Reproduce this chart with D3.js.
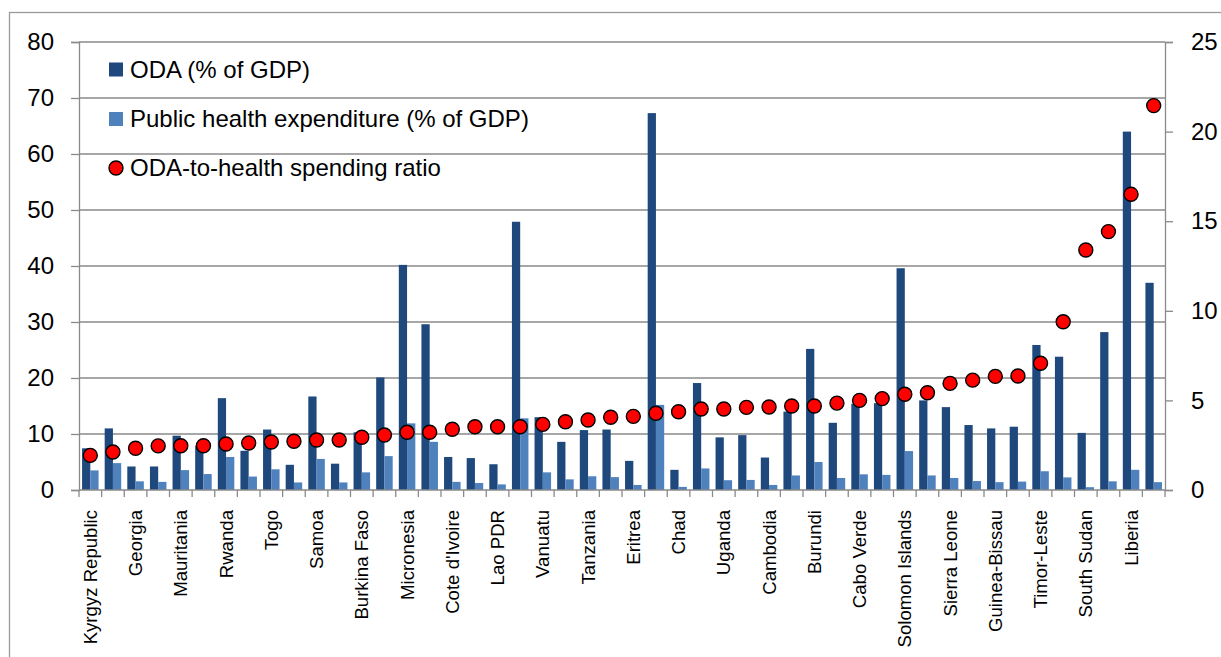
<!DOCTYPE html>
<html><head><meta charset="utf-8">
<script src="https://cdn.jsdelivr.net/npm/d3@7"></script>
<style>
html,body{margin:0;padding:0;background:#fff;overflow:hidden;}
text{font-family:"Liberation Sans",Arial,sans-serif;fill:#000;}
</style></head>
<body>
<svg id="chart" width="1221" height="657"></svg>
<script>
const categories = ["Kyrgyz Republic","","Georgia","","Mauritania","","Rwanda","","Togo","","Samoa","","Burkina Faso","","Micronesia","","Cote d'Ivoire","","Lao PDR","","Vanuatu","","Tanzania","","Eritrea","","Chad","","Uganda","","Cambodia","","Burundi","","Cabo Verde","","Solomon Islands","","Sierra Leone","","Guinea-Bissau","","Timor-Leste","","South Sudan","","Liberia",""];
const odaValues = [7.45,11.0,4.2,4.2,9.7,7.9,16.4,7.0,10.8,4.5,16.7,4.7,10.3,20.1,40.2,29.6,5.9,5.7,4.6,47.9,13.0,8.6,10.7,10.8,5.2,67.3,3.6,19.1,9.4,9.8,5.8,14.0,25.2,12.0,15.4,15.5,39.6,16.0,14.8,11.6,11.0,11.3,25.9,23.8,10.2,28.2,64.0,37.0];
const healthValues = [3.5,4.8,1.55,1.45,3.55,2.85,5.9,2.4,3.7,1.35,5.55,1.35,3.15,6.05,11.9,8.6,1.45,1.25,1.0,12.8,3.15,1.9,2.45,2.3,0.9,15.2,0.55,3.85,1.75,1.8,0.9,2.6,5.0,2.15,2.8,2.7,6.95,2.6,2.15,1.6,1.4,1.5,3.35,2.25,0.5,1.55,3.6,1.4];
const ratioValues = [1.93,2.12,2.33,2.46,2.47,2.47,2.57,2.62,2.68,2.72,2.79,2.79,2.94,3.07,3.22,3.22,3.39,3.53,3.53,3.53,3.66,3.81,3.91,4.06,4.11,4.28,4.37,4.52,4.52,4.61,4.63,4.69,4.69,4.85,5.0,5.1,5.34,5.43,5.95,6.13,6.34,6.36,7.07,9.39,13.39,14.42,16.5,21.45];
const leftTicks = [0,10,20,30,40,50,60,70,80];
const rightTicks = [0,5,10,15,20,25];
const seriesNames = ["ODA (% of GDP)","Public health expenditure (% of GDP)","ODA-to-health spending ratio"];

const svg = d3.select("#chart");
const L = 79, R = 1165, T = 42, B = 490;
const gridColor = "#8a8a8a";

// outer frame
svg.append("rect").attr("x",9.5).attr("y",12.5).attr("width",1400).attr("height",900)
  .attr("fill","none").attr("stroke","#9a9a9a").attr("stroke-width",1.3);

const x = d3.scaleBand().domain(d3.range(categories.length)).range([L,R]).padding(0);
const yL = d3.scaleLinear().domain([0,80]).range([B,T]);
const yR = d3.scaleLinear().domain([0,25]).range([B,T]);

// gridlines
svg.append("g").selectAll("line").data(leftTicks.filter(d=>d>0)).join("line")
  .attr("x1",L).attr("x2",R).attr("y1",d=>yL(d)).attr("y2",d=>yL(d))
  .attr("stroke",gridColor).attr("stroke-width",1.3);

// left axis
const gl = svg.append("g").attr("transform",`translate(${L},0)`)
  .call(d3.axisLeft(yL).tickValues(leftTicks).tickSize(8).tickPadding(17).tickFormat(d3.format("d")));
gl.select(".domain").attr("stroke",gridColor).attr("stroke-width",1.3);
gl.selectAll(".tick line").attr("stroke",gridColor).attr("stroke-width",1.3);
gl.selectAll("text").style("font-size","24px").attr("font-family","Liberation Sans, Arial, sans-serif");

// right axis
const gr = svg.append("g").attr("transform",`translate(${R},0)`)
  .call(d3.axisRight(yR).tickValues(rightTicks).tickSize(8).tickPadding(18).tickFormat(d3.format("d")));
gr.select(".domain").attr("stroke",gridColor).attr("stroke-width",1.3);
gr.selectAll(".tick line").attr("stroke",gridColor).attr("stroke-width",1.3);
gr.selectAll("text").style("font-size","24px").attr("font-family","Liberation Sans, Arial, sans-serif");

// bars
const bw = x.bandwidth();
const barW = bw*0.365, off = bw*0.135;
svg.append("g").selectAll("rect").data(odaValues).join("rect")
  .attr("x",(d,i)=>x(i)+off).attr("width",barW)
  .attr("y",d=>yL(d)).attr("height",d=>B-yL(d)).attr("fill","#1F497D");
svg.append("g").selectAll("rect").data(healthValues).join("rect")
  .attr("x",(d,i)=>x(i)+off+barW).attr("width",barW)
  .attr("y",d=>yL(d)).attr("height",d=>B-yL(d)).attr("fill","#4F81BD");

// bottom axis
const gb = svg.append("g").attr("transform",`translate(0,${B})`);
gb.append("line").attr("x1",L).attr("x2",R).attr("stroke",gridColor).attr("stroke-width",1.3);
gb.selectAll("line.tk").data(d3.range(categories.length+1)).join("line").attr("class","tk")
  .attr("x1",i=>L+i*bw).attr("x2",i=>L+i*bw).attr("y1",0).attr("y2",7)
  .attr("stroke",gridColor).attr("stroke-width",1.3);
gb.selectAll("text").data(categories).join("text")
  .attr("transform",(d,i)=>`translate(${x(i)+bw/2},20) rotate(-90)`)
  .attr("text-anchor","end").attr("dy","0.35em")
  .style("font-size","18.6px").text(d=>d);

// dots
svg.append("g").selectAll("circle").data(ratioValues).join("circle")
  .attr("cx",(d,i)=>x(i)+bw/2).attr("cy",d=>yR(d)).attr("r",7)
  .attr("fill","#FF0000").attr("stroke","#000").attr("stroke-width",1.4);

// legend
const lg = svg.append("g");
const rows = [69.5,119,168];
lg.append("rect").attr("x",109).attr("y",rows[0]-7).attr("width",14).attr("height",14).attr("fill","#1F497D");
lg.append("rect").attr("x",109).attr("y",rows[1]-7).attr("width",14).attr("height",14).attr("fill","#4F81BD");
lg.append("circle").attr("cx",116).attr("cy",rows[2]).attr("r",7).attr("fill","#FF0000").attr("stroke","#000").attr("stroke-width",1.4);
lg.selectAll("text").data(seriesNames).join("text")
  .attr("x",130).attr("y",(d,i)=>rows[i]).attr("dy","0.35em")
  .style("font-size","24px").text(d=>d);
</script>
</body></html>
